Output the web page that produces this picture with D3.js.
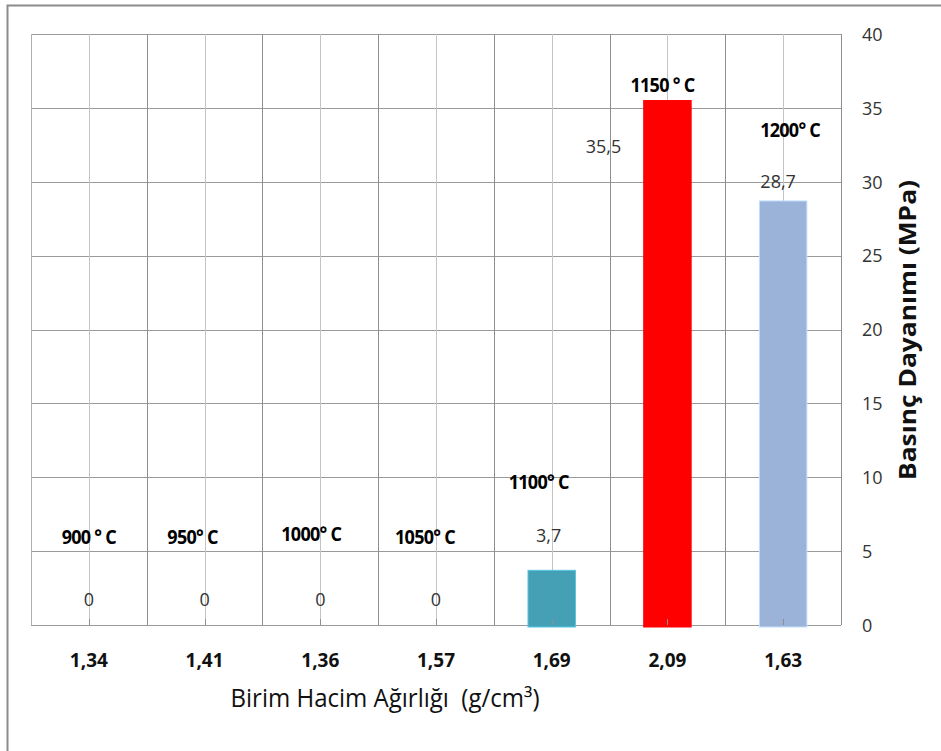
<!DOCTYPE html>
<html>
<head>
<meta charset="utf-8">
<script src="https://cdn.jsdelivr.net/npm/d3@7/dist/d3.min.js"></script>
<style>
  html, body { margin: 0; padding: 0; background: #fff; }
  svg { display: block; }
</style>
</head>
<body>
<svg id="chart" width="941" height="751"></svg>
<script>
// Firing temperature, bulk density and compressive strength per sample
const temperatures = ["900 ° C", "950° C", "1000° C", "1050° C", "1100° C", "1150 ° C", "1200° C"];
const densities = ["1,34", "1,41", "1,36", "1,57", "1,69", "2,09", "1,63"];
const strengths = [0, 0, 0, 0, 3.7, 35.5, 28.7];
const barColors = ["#45a0b6", "#45a0b6", "#45a0b6", "#45a0b6", "#45a0b6", "#ff0000", "#9bb3d8"];
const yTicks = [0, 5, 10, 15, 20, 25, 30, 35, 40];

const svg = d3.select("#chart");
const plot = { left: 31, right: 841, top: 34, bottom: 625 };
const FONT = "'Open Sans', sans-serif";

// squeeze a centred text horizontally to mimic a narrow face, keeping its centre
function squeeze(sel, k) {
  sel.each(function () {
    const t = d3.select(this);
    const w = this.getComputedTextLength();
    const cx = +t.attr("x");
    t.attr("text-anchor", "start")
      .attr("x", cx - (w * k) / 2)
      .attr("textLength", w * k).attr("lengthAdjust", "spacingAndGlyphs");
  });
}

// outer frame
svg.append("path")
  .attr("d", "M7.5,751 V5.5 H941")
  .attr("fill", "none").attr("stroke", "#8c8c8c").attr("stroke-width", 2);

const x = d3.scaleBand().domain(d3.range(temperatures.length)).range([plot.left, plot.right]).padding(0);
const y = d3.scaleLinear().domain([0, 40]).range([plot.bottom, plot.top]);
const bw = x.bandwidth();
const fmt = v => String(v).replace(".", ",");

const grid = svg.append("g");
// horizontal gridlines
grid.selectAll("line.h").data(yTicks).join("line")
  .attr("x1", plot.left).attr("x2", plot.right)
  .attr("y1", d => Math.round(y(d)) + 0.5).attr("y2", d => Math.round(y(d)) + 0.5)
  .attr("stroke", "#9a9a9a").attr("stroke-width", 1);
// category boundaries
grid.selectAll("line.b").data(d3.range(temperatures.length + 1)).join("line")
  .attr("x1", i => Math.round(plot.left + i * bw) + 0.5).attr("x2", i => Math.round(plot.left + i * bw) + 0.5)
  .attr("y1", plot.top).attr("y2", plot.bottom)
  .attr("stroke", i => i === 0 ? "#b0b0b0" : "#8e8e8e").attr("stroke-width", 1);
// category centre lines
grid.selectAll("line.c").data(d3.range(temperatures.length)).join("line")
  .attr("x1", i => Math.round(x(i) + bw / 2) + 0.5).attr("x2", i => Math.round(x(i) + bw / 2) + 0.5)
  .attr("y1", plot.top).attr("y2", plot.bottom)
  .attr("stroke", "#c4c4c4").attr("stroke-width", 1);

// bars
const barW = bw * 0.41;
svg.append("g").selectAll("rect").data(strengths).join("rect")
  .attr("x", (d, i) => x(i) + bw / 2 - barW / 2)
  .attr("y", d => y(d))
  .attr("width", barW)
  .attr("height", d => d > 0 ? y(0) - y(d) + 2 : 0)
  .attr("fill", (d, i) => barColors[i])
  .attr("stroke", (d, i) => d3.color(barColors[i]).brighter(0.6))
  .attr("stroke-width", 1);

// small ticks on the base line
svg.append("g").selectAll("line").data(d3.range(temperatures.length)).join("line")
  .attr("x1", i => Math.round(x(i) + bw / 2) + 0.5).attr("x2", i => Math.round(x(i) + bw / 2) + 0.5)
  .attr("y1", plot.bottom - 6).attr("y2", plot.bottom)
  .attr("stroke", "#8e8e8e");

// label placement (offsets relative to the category centre / bar top)
const valueNudge = [[0, -25], [0, -25], [0, -25], [0, -25], [-3, -35], [-64, 46], [-5, -19]];
const tempNudge = [[0, -63], [-12, -63], [-9, -66], [-11, -63], [-13, -53], [-5, -61], [7, -52]];

svg.append("g")
  .attr("font-family", FONT).attr("font-size", 18).attr("fill", "#333")
  .attr("text-anchor", "middle")
  .selectAll("text").data(strengths).join("text")
  .attr("x", (d, i) => x(i) + bw / 2 + valueNudge[i][0])
  .attr("y", (d, i) => y(d) + valueNudge[i][1])
  .attr("dy", "0.35em")
  .text(d => fmt(d));

const tempLabels = svg.append("g")
  .attr("font-family", FONT).attr("font-weight", "bold").attr("font-size", 20)
  .attr("fill", "#000").attr("text-anchor", "middle")
  .selectAll("text").data(temperatures).join("text")
  .attr("x", (d, i) => x(i) + bw / 2 + tempNudge[i][0])
  .attr("y", (d, i) => y(strengths[i]) + valueNudge[i][1] + tempNudge[i][1])
  .attr("dy", "0.35em")
  .attr("letter-spacing", "-0.8")
  .text(d => d);
squeeze(tempLabels, 0.9);

// x axis (density values)
const xAxis = d3.axisBottom(x).tickSize(0).tickFormat(i => densities[i]);
const gx = svg.append("g").attr("transform", `translate(0,${plot.bottom})`).call(xAxis);
gx.select(".domain").remove();
gx.selectAll("text")
  .attr("font-family", FONT).attr("font-weight", "bold")
  .attr("font-size", 19).attr("fill", "#111").attr("y", 35).attr("dy", "0.35em");

// y axis on the right
const yAxis = d3.axisRight(y).tickValues(yTicks).tickSize(0);
const gy = svg.append("g").attr("transform", `translate(${plot.right},0)`).call(yAxis);
gy.select(".domain").remove();
gy.selectAll("text")
  .attr("font-family", FONT).attr("font-size", 18).attr("fill", "#333")
  .attr("x", 21).attr("dy", "0.35em").attr("text-anchor", "start");

// axis titles
svg.append("text")
  .attr("x", 385).attr("y", 698).attr("dy", "0.35em")
  .attr("text-anchor", "middle")
  .attr("font-family", FONT).attr("font-size", 25).attr("fill", "#111")
  .attr("xml:space", "preserve")
  .attr("textLength", 309).attr("lengthAdjust", "spacingAndGlyphs")
  .text("Birim Hacim Ağırlığı  (g/cm³)");

svg.append("text")
  .attr("transform", "translate(908,330) rotate(-90)")
  .attr("dy", "0.35em")
  .attr("text-anchor", "middle")
  .attr("font-family", FONT).attr("font-weight", "bold")
  .attr("font-size", 23).attr("fill", "#111")
  .attr("textLength", 300).attr("lengthAdjust", "spacingAndGlyphs")
  .text("Basınç Dayanımı (MPa)");
</script>
</body>
</html>
